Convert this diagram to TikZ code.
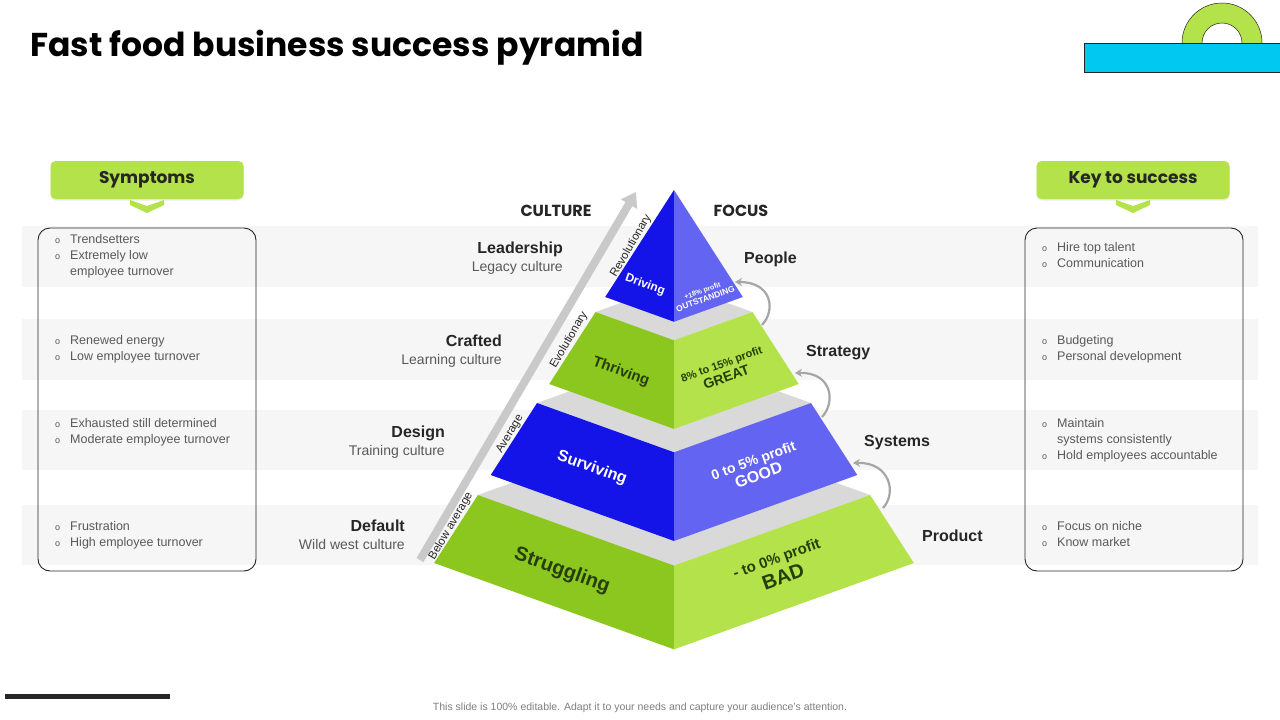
\documentclass[tikz,border=0pt]{standalone}
\usepackage{fontspec}
\setmainfont{Liberation Sans}
\newfontfamily\headfont{Poppins}
\usepackage{xcolor}
\usetikzlibrary{arrows.meta,shadows}
\definecolor{inkdark}{HTML}{262626}
\definecolor{inkgray}{HTML}{595959}
\definecolor{notegray}{HTML}{7F7F7F}
\definecolor{bandgray}{HTML}{F6F6F6}
\definecolor{facegray}{HTML}{D9D9D9}
\definecolor{royalblue}{HTML}{1414E8}
\definecolor{paleblue}{HTML}{6464F2}
\definecolor{leafgreen}{HTML}{8CC71F}
\definecolor{limegreen}{HTML}{B3E24A}
\definecolor{textgreen}{HTML}{263F0A}
\definecolor{arrowgray}{HTML}{A6A6A6}
\definecolor{slopegray}{HTML}{C9C9C9}
\definecolor{skycyan}{HTML}{00C8F0}
\tikzset{
  band/.style={fill=bandgray},
  listbox/.style={draw=inkdark,line width=0.9pt,rounded corners=12pt},
  headbox/.style={fill=limegreen,rounded corners=5pt,minimum width=193pt,
                  minimum height=38pt,inner sep=0pt,text=inkdark,
                  font=\headfont\bfseries\fontsize{17}{20}\selectfont,
                  drop shadow={shadow xshift=0pt,shadow yshift=-1.5pt,
                               opacity=0.15}},
  chevron/.style={fill=limegreen},
  listtext/.style={anchor=north west,align=left,inner sep=0pt,text=inkgray,
                   font=\fontsize{12.5}{16}\selectfont},
  culturelbl/.style={anchor=north east,align=right,inner sep=0pt,
                     text=inkdark,font=\fontsize{14}{18}\selectfont},
  focuslbl/.style={anchor=base west,inner sep=0pt,text=inkdark,
                   font=\bfseries\fontsize{16}{18}\selectfont},
  colhead/.style={inner sep=0pt,text=inkdark,
                  font=\headfont\bfseries\fontsize{16}{18}\selectfont},
  topface/.style={fill=facegray},
  slopearr/.style={-{Triangle[length=14pt,width=18pt]},line width=8pt,
                   draw=slopegray},
  slopelbl/.style={rotate=59.8,inner sep=0pt,text=inkdark,
                   font=\fontsize{11.5}{13}\selectfont},
  curvarr/.style={-{Stealth[length=7pt,width=8pt]},line width=2.2pt,
                  draw=arrowgray},
  leftface/.style={rotate=-19.8,inner sep=0pt,font=\bfseries,align=center},
  rightface/.style={rotate=19.8,inner sep=0pt,font=\bfseries,align=center}
}
\newcommand{\bul}{\makebox[15pt][l]{\fontsize{9}{9}\selectfont o}}
\newcommand{\pyrtier}[4]{%
  \pgfmathsetmacro{\wa}{0.643*(#1-190)}%
  \pgfmathsetmacro{\wb}{0.643*(#2-190)}%
  \pgfmathsetmacro{\da}{0.36*\wa}%
  \pgfmathsetmacro{\db}{0.36*\wb}%
  \fill[topface] (674-\wa,#1) -- (674,#1-\da) -- (674+\wa,#1)
    -- (674,#1+\da) -- cycle;
  \fill[#3] (674-\wa,#1) -- (674,#1+\da) -- (674,#2+\db) -- (674-\wb,#2)
    -- cycle;
  \fill[#4] (674,#1+\da) -- (674+\wa,#1) -- (674+\wb,#2) -- (674,#2+\db)
    -- cycle;
}

\begin{document}
\begin{tikzpicture}[x=1pt,y=-1pt]
  \path[use as bounding box,fill=white] (0,0) rectangle (1280,720);

  \node[anchor=base west,inner sep=0pt,text=black,
        font=\headfont\bfseries\fontsize{33}{38}\selectfont]
    (title) at (30,56) {Fast food business success pyramid};

  \begin{scope}
    \clip (1150,0) rectangle (1280,43);
    \fill[limegreen,draw=inkdark,line width=0.5pt,even odd rule]
      (1222,43) circle[radius=40pt] (1222,43) circle[radius=20pt];
  \end{scope}
  \fill[skycyan,draw=inkdark,line width=0.6pt] (1084,43) rectangle (1280,72);

  \foreach \ya/\yb in {226/287,319/380,410/470,505/565}
    \fill[band] (22,\ya) rectangle (1258,\yb);

  \draw[listbox] (38,228) rectangle (256,571);
  \draw[listbox] (1025,228) rectangle (1243,571);

  \node[headbox] (symptoms) at (147,180) {Symptoms};
  \node[headbox] (keysuccess) at (1133,180) {Key to success};
  \fill[chevron] (130,200) -- (147,206) -- (164,200) -- (164,205)
    -- (147,213) -- (130,205) -- cycle;
  \fill[chevron] (1116,200) -- (1133,206) -- (1150,200) -- (1150,205)
    -- (1133,213) -- (1116,205) -- cycle;

  \node[listtext] (symone) at (55,234)
    {\bul Trendsetters\\\bul Extremely low\\\hspace*{15pt}employee turnover};
  \node[listtext] (symtwo) at (55,335)
    {\bul Renewed energy\\\bul Low employee turnover};
  \node[listtext] (symthree) at (55,418)
    {\bul Exhausted still determined\\\bul Moderate employee turnover};
  \node[listtext] (symfour) at (55,521)
    {\bul Frustration\\\bul High employee turnover};

  \node[listtext] (keyone) at (1042,242)
    {\bul Hire top talent\\\bul Communication};
  \node[listtext] (keytwo) at (1042,335)
    {\bul Budgeting\\\bul Personal development};
  \node[listtext] (keythree) at (1042,418)
    {\bul Maintain\\\hspace*{15pt}systems consistently\\\bul Hold employees accountable};
  \node[listtext] (keyfour) at (1042,521)
    {\bul Focus on niche\\\bul Know market};

  \pyrtier{495}{563}{leafgreen}{limegreen}
  \pyrtier{403}{475}{royalblue}{paleblue}
  \pyrtier{312}{384}{leafgreen}{limegreen}
  \pyrtier{190}{297}{royalblue}{paleblue}

  \node[leftface,text=white,font=\bfseries\fontsize{12}{14}\selectfont]
    (driving) at (645,285) {Driving};
  \node[rightface,text=white,font=\bfseries\fontsize{7}{9}\selectfont]
    (drivingprofit) at (704,295)
    {+18\% profit\\{\fontsize{8.5}{9}\selectfont OUTSTANDING}};
  \node[leftface,text=textgreen,font=\bfseries\fontsize{15}{17}\selectfont]
    (thriving) at (621,372) {Thriving};
  \node[rightface,text=textgreen,font=\bfseries\fontsize{11}{15}\selectfont]
    (thrivingprofit) at (724,371)
    {8\% to 15\% profit\\{\fontsize{14}{15}\selectfont GREAT}};
  \node[leftface,text=white,font=\bfseries\fontsize{16}{18}\selectfont]
    (surviving) at (592,468) {Surviving};
  \node[rightface,text=white,font=\bfseries\fontsize{14}{16}\selectfont]
    (survivingprofit) at (756,468)
    {0 to 5\% profit\\{\fontsize{16}{16}\selectfont GOOD}};
  \node[leftface,text=textgreen,font=\bfseries\fontsize{20}{22}\selectfont]
    (struggling) at (562,571) {Struggling};
  \node[rightface,text=textgreen,font=\bfseries\fontsize{15}{21}\selectfont]
    (strugglingprofit) at (780,568)
    {- to 0\% profit\\{\fontsize{20}{21}\selectfont BAD}};

  \coordinate (slopetail) at (420,560);
  \coordinate (slopetip) at (636,192);
  \draw[slopearr] (slopetail) -- (slopetip);
  \node[slopelbl] (belowavg) at (451,526) {Below average};
  \node[slopelbl] (average) at (510,434) {Average};
  \node[slopelbl] (evolution) at (569,340) {Evolutionary};
  \node[slopelbl] (revolution) at (631,246) {Revolutionary};

  \coordinate (strategyout) at (762,325);
  \coordinate (peoplein) at (735,282);
  \coordinate (systemsout) at (822,417);
  \coordinate (strategyin) at (795,373);
  \coordinate (productout) at (883,508);
  \coordinate (systemsin) at (853,463);
  \draw[curvarr] (strategyout) .. controls (776,310) and (772,282) .. (peoplein);
  \draw[curvarr] (systemsout) .. controls (836,402) and (832,372) .. (strategyin);
  \draw[curvarr] (productout) .. controls (897,493) and (890,462) .. (systemsin);

  \node[colhead] (culture) at (556,211) {CULTURE};
  \node[colhead] (focus) at (741,211) {FOCUS};

  \node[culturelbl] (leadership) at (563,242)
    {{\bfseries\fontsize{16}{18}\selectfont Leadership}\\{\color{inkgray}Legacy culture}};
  \node[culturelbl] (crafted) at (502,335)
    {{\bfseries\fontsize{16}{18}\selectfont Crafted}\\{\color{inkgray}Learning culture}};
  \node[culturelbl] (design) at (445,426)
    {{\bfseries\fontsize{16}{18}\selectfont Design}\\{\color{inkgray}Training culture}};
  \node[culturelbl] (default) at (405,520)
    {{\bfseries\fontsize{16}{18}\selectfont Default}\\{\color{inkgray}Wild west culture}};

  \node[focuslbl] (people) at (744,263) {People};
  \node[focuslbl] (strategy) at (806,356) {Strategy};
  \node[focuslbl] (systems) at (864,446) {Systems};
  \node[focuslbl] (product) at (922,541) {Product};

  \fill[inkdark] (5,694) rectangle (170,699);
  \node[inner sep=0pt,text=notegray,font=\fontsize{10.5}{12}\selectfont]
    (footnote) at (640,708)
    {This slide is 100\% editable. Adapt it to your needs and capture your audience's attention.};
\end{tikzpicture}
\end{document}
